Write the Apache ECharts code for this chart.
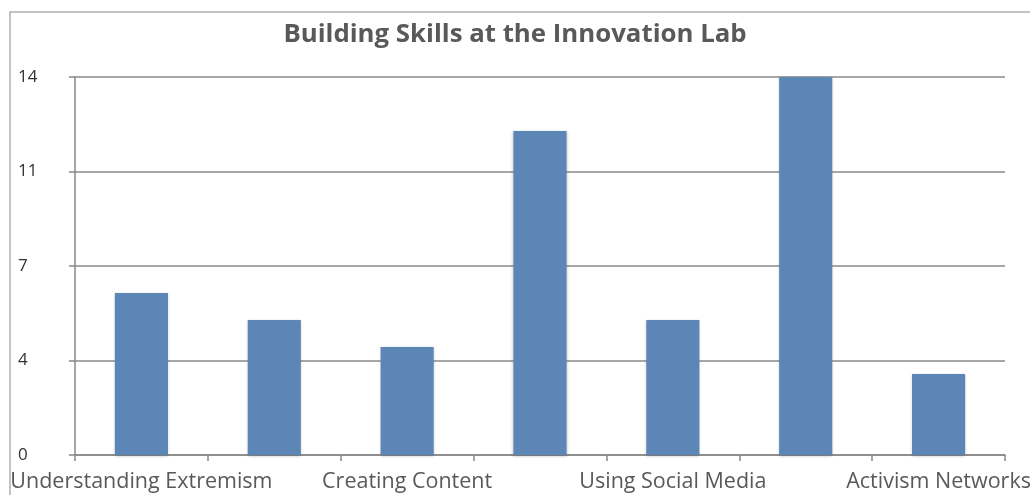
<!DOCTYPE html>
<html>
<head>
<meta charset="utf-8">
<script src="https://cdn.jsdelivr.net/npm/echarts@6/dist/echarts.min.js"></script>
<style>html,body{margin:0;padding:0;background:#fff;}#c{width:1030px;height:495px;}</style>
</head>
<body>
<div id="c"></div>
<script>
const titleText = 'Building Skills at the Innovation Lab';
const categories = ['Understanding Extremism', 'Category 2', 'Creating Content', 'Category 4', 'Using Social Media', 'Category 6', 'Activism Networks'];
const values = [6, 5, 4, 12, 5, 14, 3];
const yMin = 0, yMax = 14, yStep = 3.5;

const chart = echarts.init(document.getElementById('c'), null, {renderer: 'canvas'});
chart.setOption({
  animation: false,
  backgroundColor: '#fff',
  title: {
    text: titleText,
    left: 'center',
    top: 17,
    textStyle: {fontFamily: 'Open Sans', fontWeight: 'bold', fontSize: 25.8, color: '#595959'}
  },
  graphic: [{
    type: 'polyline',
    shape: {points: [[10, 495], [10, 12], [1030, 12]]},
    style: {stroke: '#b0b0b0', lineWidth: 1.5, fill: null}
  }],
  grid: {left: 75, right: 25, top: 77, bottom: 40, containLabel: false, outerBoundsMode: 'none'},
  xAxis: {
    type: 'category',
    data: categories,
    boundaryGap: true,
    axisLine: {show: true, lineStyle: {color: '#888', width: 1.5}},
    axisTick: {show: true, length: 6, interval: 0, lineStyle: {color: '#888', width: 1.5}},
    axisLabel: {interval: 1, margin: 16, fontFamily: 'Open Sans', fontSize: 21.5, color: '#595959'}
  },
  yAxis: {
    type: 'value',
    min: yMin, max: yMax, interval: yStep,
    axisLine: {show: true, lineStyle: {color: '#888', width: 1.5}},
    axisTick: {show: true, length: 6, lineStyle: {color: '#888', width: 1.5}},
    axisLabel: {margin: 57, align: 'left', fontFamily: 'Open Sans', fontSize: 17, color: '#333',
      formatter: v => String(Math.round(v))},
    splitLine: {show: true, lineStyle: {color: '#8a8a8a', width: 1.5}}
  },
  series: [{
    type: 'bar',
    data: values,
    barWidth: '40%',
    itemStyle: {color: '#5b86b6', shadowColor: 'rgba(0,0,0,0.25)', shadowBlur: 3, shadowOffsetY: 1}
  }]
});
</script>
</body>
</html>
